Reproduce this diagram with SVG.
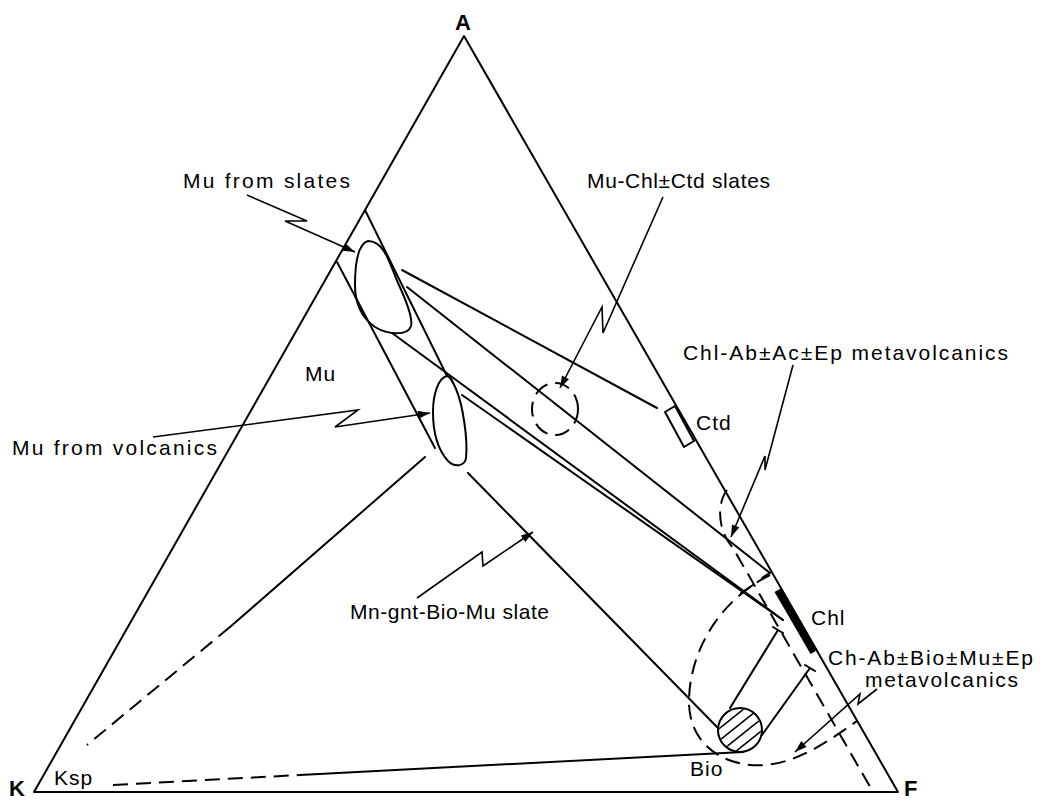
<svg xmlns="http://www.w3.org/2000/svg" width="1048" height="801" viewBox="0 0 1048 801">
<style>
.ln{fill:none;stroke:#000;stroke-width:2;stroke-linecap:round;stroke-linejoin:round}
.ds{fill:none;stroke:#000;stroke-width:2;stroke-dasharray:15 8}
.ld{fill:none;stroke:#000;stroke-width:1.6;stroke-linejoin:miter}
.t{font-family:"Liberation Sans",Arial,sans-serif;font-size:21px;fill:#000}
.b{font-family:"Liberation Sans",Arial,sans-serif;font-size:22px;font-weight:bold;fill:#000}
</style>
<defs>
<marker id="ah" viewBox="0 0 12 8" refX="12" refY="4" markerWidth="13" markerHeight="8" orient="auto" markerUnits="userSpaceOnUse"><path d="M0,0 L12,4 L0,8 Z" fill="#000"/></marker>
<clipPath id="bioclip"><circle cx="740" cy="730" r="21"/></clipPath>
</defs>
<rect width="1048" height="801" fill="#fff"/>

<g id="triangle">
<polygon class="ln" points="464,36 34,792 898,792" stroke-width="2.2"/>
</g>

<g id="mu-field">
<path class="ln" d="M365,210 L447,376"/>
<path class="ln" d="M337,262 L435,448"/>
</g>

<g id="mu-slates-blob">
<path class="ln" d="M368,241 C358,244 355,262 355,285 C355,305 362,318 375,327 C388,335 408,336 411,326 C413,318 405,298 398,283 C390,265 385,241 368,241 Z"/>
</g>

<g id="mu-volcanics-blob">
<path class="ln" d="M447,376 C438,378 433,395 433,412 C433,432 438,450 448,461 C455,468 465,466 466,458 C468,440 463,405 456,389 C452,380 450,376 447,376 Z"/>
</g>

<g id="ctd-box">
<polygon class="ln" points="675,406 694,441 684,447 665,412" stroke-width="3"/>
</g>

<g id="chl-bar">
<path d="M778,590 L814,652" stroke="#000" stroke-width="8" fill="none"/>
</g>

<g id="bio-circle">
<g clip-path="url(#bioclip)" stroke="#000" stroke-width="1.6">
<path d="M715,732 L765,692 M715,744 L765,704 M715,756 L765,716 M715,768 L765,728"/>
</g>
<circle class="ln" cx="740" cy="730" r="22"/>
</g>

<g id="mu-chl-field">
<ellipse class="ds" cx="555" cy="409" rx="23" ry="26" stroke-dasharray="11 6"/>
</g>

<g id="chl-ab-field">
<path class="ds" d="M727,490 C717,503 717,530 733,548 L873,792"/>
</g>

<g id="ch-ab-bio-field">
<path class="ds" d="M770,575 C720,600 690,650 689,700 C688,745 725,768 765,765 C800,762 830,740 857,721"/>
</g>

<g id="connectors">
<path class="ln" d="M402,270 L657,408"/>
<path class="ln" d="M407,287 L770,573"/>
<path class="ln" d="M392,333 L783,620"/>
<path class="ln" d="M462,395 L783,620"/>
<path class="ln" d="M425,457 L230,627"/>
<path class="ds" d="M230,627 L87,745"/>
<path class="ln" d="M468,473 L717,727"/>
<path class="ds" d="M113,785 L300,775"/>
<path class="ln" d="M300,775 L743,752"/>
<path class="ln" d="M730,708 L778,630 M773,627 L783,633"/>
<path class="ln" d="M762,735 L810,668 M805,665 L815,671"/>
<path class="ln" d="M741,593 L753,585 M762,578 L771,572"/>
</g>

<g id="leaders">
<path class="ld" d="M247,195 L307,221 L285,221 L355,252" marker-end="url(#ah)"/>
<path class="ld" d="M663,197 L603,333 L602,307 L560,388" marker-end="url(#ah)"/>
<path class="ld" d="M793,365 L765,470 L765,456 L731,537" marker-end="url(#ah)"/>
<path class="ld" d="M153,437 L358,410 L335,427 L430,413" marker-end="url(#ah)"/>
<path class="ld" d="M417,598 L482,552 L483,566 L533,532" marker-end="url(#ah)"/>
<path class="ld" d="M877,689 L858,704 L860,694 L795,752" marker-end="url(#ah)"/>
</g>

<g id="labels">
<text class="b" x="455" y="30">A</text>
<text class="b" x="9" y="796">K</text>
<text class="b" x="904" y="796">F</text>
<text class="t" x="183" y="188" textLength="167" lengthAdjust="spacing">Mu from slates</text>
<text class="t" x="587" y="188" textLength="183" lengthAdjust="spacing">Mu-Chl±Ctd slates</text>
<text class="t" x="683" y="360" textLength="325" lengthAdjust="spacing">Chl-Ab±Ac±Ep metavolcanics</text>
<text class="t" x="696" y="430" letter-spacing="1">Ctd</text>
<text class="t" x="305" y="381" letter-spacing="1">Mu</text>
<text class="t" x="12" y="455" textLength="205" lengthAdjust="spacing">Mu from volcanics</text>
<text class="t" x="350" y="619" textLength="199" lengthAdjust="spacing">Mn-gnt-Bio-Mu slate</text>
<text class="t" x="811" y="625" letter-spacing="1">Chl</text>
<text class="t" x="828" y="665" textLength="205" lengthAdjust="spacing">Ch-Ab±Bio±Mu±Ep</text>
<text class="t" x="865" y="687" textLength="153" lengthAdjust="spacing">metavolcanics</text>
<text class="t" x="54" y="785" letter-spacing="1">Ksp</text>
<text class="t" x="690" y="776" letter-spacing="1">Bio</text>
</g>
</svg>
